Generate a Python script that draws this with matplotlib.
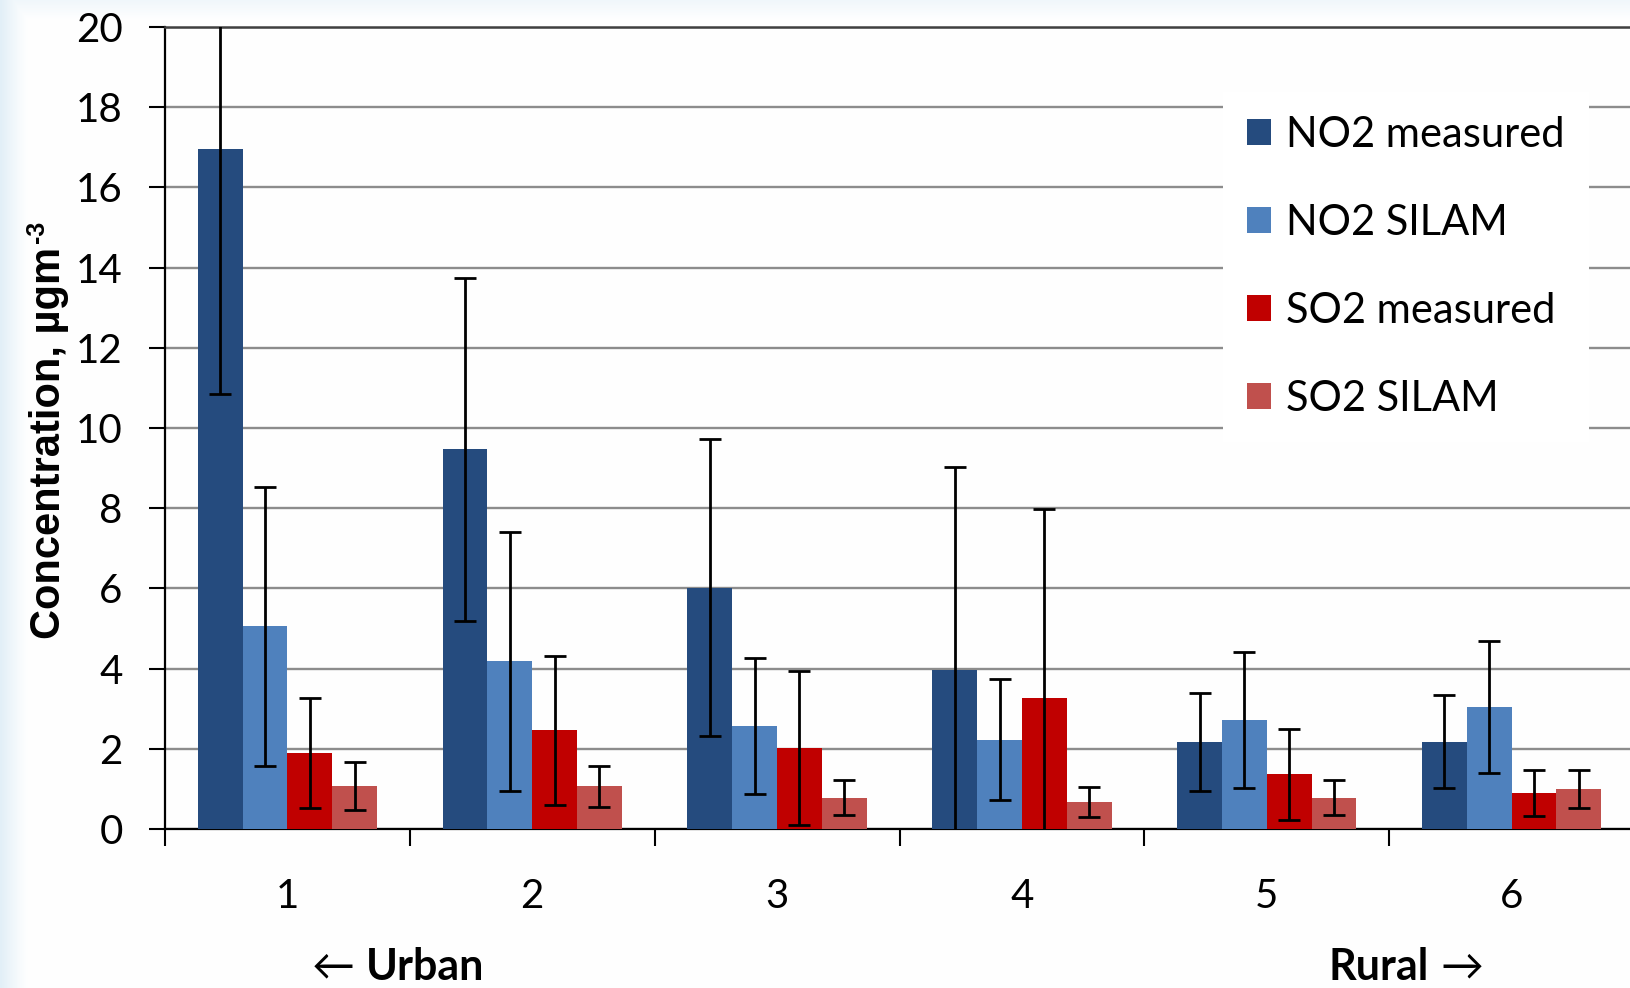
import numpy as np
import matplotlib
matplotlib.use("Agg")
import matplotlib.pyplot as plt
from matplotlib.patches import Patch

# Sites ordered from urban (1) to rural (6)
sites = ["1", "2", "3", "4", "5", "6"]

series_names = ["NO2 measured", "NO2 SILAM", "SO2 measured", "SO2 SILAM"]
series_colors = ["#254B7E", "#4F81BD", "#C00000", "#C0504D"]

# Mean concentrations (µg m-3)
no2_measured = [16.95, 9.47, 6.02, 3.97, 2.18, 2.18]
no2_silam = [5.06, 4.18, 2.57, 2.23, 2.72, 3.04]
so2_measured = [1.89, 2.46, 2.02, 3.27, 1.36, 0.90]
so2_silam = [1.07, 1.06, 0.78, 0.67, 0.78, 1.00]

# Standard deviations (symmetric error bars)
no2_measured_err = [6.10, 4.28, 3.70, 5.06, 1.22, 1.17]
no2_silam_err = [3.48, 3.23, 1.70, 1.50, 1.70, 1.65]
so2_measured_err = [1.37, 1.85, 1.92, 4.72, 1.14, 0.57]
so2_silam_err = [0.60, 0.50, 0.43, 0.37, 0.43, 0.48]

values = [no2_measured, no2_silam, so2_measured, so2_silam]
errors = [no2_measured_err, no2_silam_err, so2_measured_err, so2_silam_err]

y_ticks = [0, 2, 4, 6, 8, 10, 12, 14, 16, 18, 20]

W, H = 1630, 988
fig = plt.figure(figsize=(W / 100, H / 100), dpi=100)

# soft bluish frame of the slide background
bg = fig.add_axes([0, 0, 1, 1], zorder=-10)
xx = np.linspace(0, 1, W)[None, :]
yy = np.linspace(0, 1, H)[:, None]
edge = np.clip(1 - xx * W / 28, 0, 1) ** 1.2
top = np.clip(1 - yy * H / 20, 0, 1) * 0.5
alpha = np.clip(np.maximum(edge, top) + 0.02, 0, 1)
img = np.zeros((H, W, 4))
img[..., 0] = 0.89
img[..., 1] = 0.94
img[..., 2] = 0.97
img[..., 3] = alpha
bg.imshow(img, aspect="auto", extent=(0, 1, 0, 1))
bg.set_axis_off()

ax = fig.add_axes([165 / W, 1 - 829 / H, (1634 - 165) / W, (829 - 27) / H])
ax.set_facecolor("none")

tick_font = ["Lato", "DejaVu Sans"]
x = np.arange(1, len(sites) + 1)
bw = 0.183
offsets = (np.arange(4) - 1.5) * bw

for vals, errs, color, off in zip(values, errors, series_colors, offsets):
    ax.bar(x + off, vals, width=bw, color=color, zorder=3, linewidth=0)
    ax.errorbar(x + off, vals, yerr=errs, fmt="none", ecolor="black",
                elinewidth=2.0, capsize=8, capthick=2.0, zorder=4)

ax.set_xlim(0.5, 6.5)
ax.set_ylim(0, 20)
ax.set_yticks(y_ticks)
ax.set_yticklabels([str(t) for t in y_ticks], family=tick_font, fontsize=29)
ax.yaxis.grid(True, color="#8c8c8c", linewidth=1.7, zorder=0)
ax.set_axisbelow(True)

# category boundaries carry the tick marks, centres carry the labels
ax.set_xticks(np.arange(0.5, 7.0, 1.0))
ax.set_xticklabels([])
ax.set_xticks(x, minor=True)
ax.set_xticklabels(sites, minor=True, family=tick_font, fontsize=29)
ax.tick_params(axis="x", which="major", direction="out", length=12, width=1.5, color="black")
ax.tick_params(axis="x", which="minor", length=0, pad=35)
ax.tick_params(axis="y", direction="out", length=11.5, width=1.5, color="black", pad=19)

for side in ["left", "bottom"]:
    ax.spines[side].set_color("black")
    ax.spines[side].set_linewidth(1.6)
ax.spines["top"].set_color("#404040")
ax.spines["top"].set_linewidth(1.8)
ax.spines["right"].set_visible(False)

# y-axis title with a small raised "-3"
ylab = fig.text(29 / W, 1 - 639 / H, "Concentration, µgm", rotation=90,
                ha="left", va="bottom", family="Liberation Sans", fontweight="bold",
                fontsize=30)
ax.annotate("-3", xy=(0, 1), xycoords=ylab, xytext=(-3, 3), textcoords="offset points",
            rotation=90, ha="left", va="bottom", family="Liberation Sans",
            fontweight="bold", fontsize=18, annotation_clip=False)

handles = [Patch(facecolor=c, edgecolor="none") for c in series_colors]
leg = ax.legend(handles, series_names, loc="upper left",
                bbox_to_anchor=(1223 / W, 1 - 92 / H), bbox_transform=fig.transFigure,
                borderaxespad=0, frameon=True, fancybox=False, framealpha=1,
                facecolor="white", edgecolor="none", prop={"family": tick_font, "size": 30},
                handlelength=0.58, handleheight=0.58, handletextpad=0.36,
                labelspacing=1.2, borderpad=0.58)
leg.set_zorder(5)

fig.text(312 / W, 1 - 967 / H, "←", ha="left", va="center",
         family=tick_font, fontsize=31)
fig.text(366 / W, 1 - 967 / H, "Urban", ha="left", va="center",
         family=tick_font, fontweight="bold", fontsize=31)
fig.text(1328 / W, 1 - 967 / H, "Rural", ha="left", va="center",
         family=tick_font, fontweight="bold", fontsize=31)
fig.text(1440 / W, 1 - 967 / H, "→", ha="left", va="center",
         family=tick_font, fontsize=31)

fig.savefig("out.png", dpi=100)
